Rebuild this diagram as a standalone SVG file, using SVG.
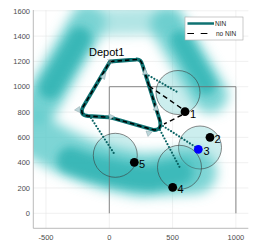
<svg xmlns="http://www.w3.org/2000/svg" width="270" height="248" viewBox="0 0 270 248">
<style>
.grid{stroke:#e6e6e6;stroke-width:0.6;fill:none}
.axis{stroke:#a8a8a8;stroke-width:0.8;fill:none}
.tick{font-family:"Liberation Sans",Arial,sans-serif;font-size:7.5px;fill:#4d4d4d}
.band{fill:none;stroke-linecap:round;stroke-linejoin:round}
.nb{fill:#49c2c2;fill-opacity:0.28;stroke:#3a3a3a;stroke-width:0.6}
.route{fill:none;stroke:#0f7272;stroke-width:3.8;stroke-linejoin:round}
.nonin{fill:none;stroke:#000;stroke-width:1.6;stroke-dasharray:4.5 3;stroke-linejoin:round}
.dot{fill:none;stroke:#0a6464;stroke-width:2.2;stroke-linecap:round;stroke-dasharray:0 3.2}
.dash{fill:none;stroke:#000;stroke-width:1.4;stroke-dasharray:5 3.5}
.arr{fill:#bcd6da;stroke:#8aa4a8;stroke-width:0.5}
.cust{fill:#000}
.lbl{font-family:"Liberation Sans",Arial,sans-serif;font-size:11px;fill:#000}
.leg{font-family:"Liberation Sans",Arial,sans-serif;font-size:6.5px;fill:#262626}
</style>
<defs>
<clipPath id="plot"><rect x="33.3" y="10" width="215" height="218.3"/></clipPath>
<filter id="blur" x="-50%" y="-50%" width="200%" height="200%"><feGaussianBlur stdDeviation="6"/></filter>
<filter id="blur2" x="-50%" y="-50%" width="200%" height="200%"><feGaussianBlur stdDeviation="4"/></filter>
</defs>
<rect width="270" height="248" fill="#fff"/>
<g id="grid">
<path class="grid" d="M46,10V228.3M109.3,10V228.3M172.6,10V228.3M235.9,10V228.3M33.3,213.3H248.3M33.3,188H248.3M33.3,162.7H248.3M33.3,137.4H248.3M33.3,112.1H248.3M33.3,86.7H248.3M33.3,61.4H248.3M33.3,36.1H248.3M33.3,10.8H248.3"/>
</g>
<g id="shading" clip-path="url(#plot)">
<g filter="url(#blur)">
<path class="band" stroke="#5ccaca" stroke-opacity="0.85" stroke-width="36" d="M40,105 L88,22"/>
<path class="band" stroke="#7fd3d3" stroke-opacity="0.6" stroke-width="28" d="M92,22 L170,20"/>
<path class="band" stroke="#5ccaca" stroke-opacity="0.8" stroke-width="36" d="M168,25 L210,95"/>
<path class="band" stroke="#5ccaca" stroke-opacity="0.8" stroke-width="44" d="M35,135 Q80,165 140,175 L195,172"/>
</g>
<g filter="url(#blur2)">
<path class="band" stroke="#2db3b3" stroke-opacity="0.85" stroke-width="22" d="M50,88 L80,38"/>
<path class="band" stroke="#2db3b3" stroke-opacity="0.8" stroke-width="20" d="M180,40 L206,85"/>
<path class="band" stroke="#2db3b3" stroke-opacity="0.85" stroke-width="26" d="M70,160 Q110,175 150,178 L180,172"/>
</g>
</g>
<g id="axes">
<path class="axis" d="M33.3,10V228.3H248.3"/>
<text class="tick" x="30" y="13.5" text-anchor="end">1600</text>
<text class="tick" x="30" y="38.8" text-anchor="end">1400</text>
<text class="tick" x="30" y="64.1" text-anchor="end">1200</text>
<text class="tick" x="30" y="89.4" text-anchor="end">1000</text>
<text class="tick" x="30" y="114.8" text-anchor="end">800</text>
<text class="tick" x="30" y="140.1" text-anchor="end">600</text>
<text class="tick" x="30" y="165.4" text-anchor="end">400</text>
<text class="tick" x="30" y="190.7" text-anchor="end">200</text>
<text class="tick" x="30" y="216" text-anchor="end">0</text>
<text class="tick" x="46" y="240" text-anchor="middle">-500</text>
<text class="tick" x="109.3" y="240" text-anchor="middle">0</text>
<text class="tick" x="172.6" y="240" text-anchor="middle">500</text>
<text class="tick" x="235.9" y="240" text-anchor="middle">1000</text>
</g>
<path id="square" d="M109.3,213.3V86.7H235.9V213.3" fill="none" stroke="#6a6a6a" stroke-width="0.8"/>
<g id="neighborhoods">
<circle class="nb" cx="178" cy="92.5" r="22"/>
<circle class="nb" cx="200" cy="147.5" r="21.5"/>
<circle class="nb" cx="179.5" cy="167.3" r="22"/>
<circle class="nb" cx="115.3" cy="155.3" r="22"/>
</g>
<g id="connectors">
<path class="route" d="M110,61.5 L136,59.5 Q141,59 142.5,65 L160,121 Q162,130 154,130 L114,118.5 Q110,117 104,117 L88,116 Q79,115 83,107 Z"/>
<path class="nonin" d="M110,61.5 L136,59.5 Q141,59 142.5,65 L160,121 Q162,130 154,130 L114,118.5 Q110,117 104,117 L88,116 Q79,115 83,107 Z"/>
<path class="dot" d="M146,74 L178,92.5"/>
<path class="dot" d="M163,126 L197,148"/>
<path class="dot" d="M160,130 L179.5,167"/>
<path class="dot" d="M91,118 L115,155"/>
<path class="dash" d="M149,86 L184,110"/>
<path class="dash" d="M182,115 L164,124"/>
<polygon class="arr" points="100.5,77 106,72.5 104.5,79.5"/>
<polygon class="arr" points="74.5,110 79.5,106.5 80,112.5"/>
<polygon class="arr" points="109,114 114.5,116.5 109.5,119.5"/>
<polygon class="arr" points="146,131 152,132 148,136.5"/>
<polygon class="arr" points="153,110 156.5,104.5 158.5,110.5"/>
<polygon class="arr" points="142.5,74.5 145,68.5 147.5,74"/>
</g>
<g id="depot">
<path d="M107.5,59 L112.5,64 M112.5,59 L107.5,64" stroke="#9a9a9a" stroke-width="0.7"/>
<text class="lbl" x="89" y="55.5" font-size="11.5">Depot1</text>
</g>
<g id="c1"><circle class="cust" cx="185" cy="111.7" r="4.4"/><text class="lbl" x="190" y="117.5">1</text></g>
<g id="c2"><circle class="cust" cx="210" cy="137.3" r="4.4"/><text class="lbl" x="214.5" y="142.5">2</text></g>
<g id="c3"><circle cx="198.3" cy="149.3" r="4.4" fill="#0000ff"/><text class="lbl" x="203.5" y="154.5">3</text></g>
<g id="c4"><circle class="cust" cx="172.7" cy="187.3" r="4.4"/><text class="lbl" x="177.5" y="192.5">4</text></g>
<g id="c5"><circle class="cust" cx="134.3" cy="162.3" r="4.4"/><text class="lbl" x="139" y="167.5">5</text></g>
<g id="legend">
<rect x="185" y="17" width="58" height="23" fill="#fff" stroke="#a8a8a8" stroke-width="0.6"/>
<path d="M187.5,23.5H214" stroke="#0f7272" stroke-width="2.5"/>
<text class="leg" x="215" y="26">NIN</text>
<path d="M187.3,33.5H214" stroke="#000" stroke-width="1.2" stroke-dasharray="6.7 6.7"/>
<text class="leg" x="216" y="36">no NIN</text>
</g>
</svg>
